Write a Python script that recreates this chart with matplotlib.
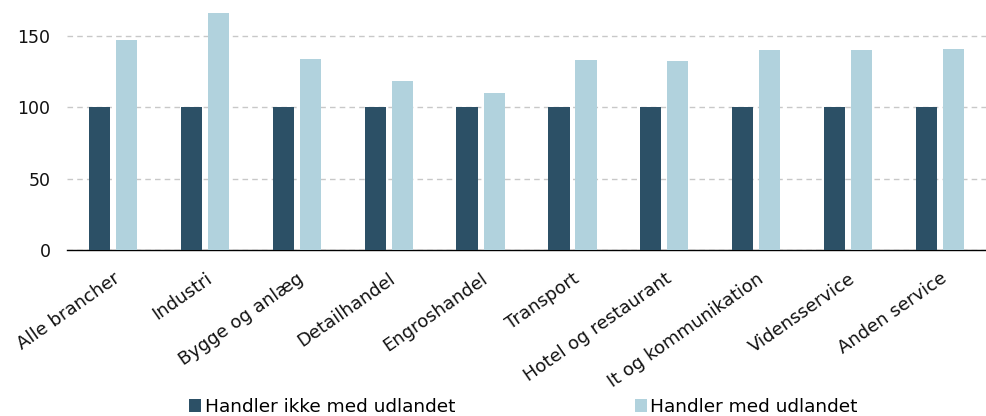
import numpy as np
import matplotlib.pyplot as plt

# Data (index, 100 = firms without foreign trade)
categories = [
    "Alle brancher", "Industri", "Bygge og anlæg", "Detailhandel", "Engroshandel",
    "Transport", "Hotel og restaurant", "It og kommunikation", "Vidensservice",
    "Anden service",
]
no_trade = [100, 100, 100, 100, 100, 100, 100, 100, 100, 100]
with_trade = [147, 166, 134, 118, 110, 133, 132, 140, 140, 141]

label_no = "Handler ikke med udlandet"
label_yes = "Handler med udlandet"

plt.rcParams["font.family"] = ["DejaVu Sans"]

fig = plt.figure(figsize=(9.86, 4.16), dpi=100)
ax = fig.add_axes([0.068, 0.399, 0.932, 0.601])

x = np.arange(len(categories))
w = 0.23
off = 0.147

ax.bar(x - off, no_trade, width=w, color="#2c5066", label=label_no, zorder=3)
ax.bar(x + off, with_trade, width=w, color="#b1d2dd", label=label_yes, zorder=3)

ax.set_xlim(-0.5, len(categories) - 0.5)
ax.set_ylim(0, 175)
ax.set_yticks([0, 50, 100, 150])
ax.yaxis.grid(True, linestyle=(0, (4, 3)), color="#c8c8c8", linewidth=1.0, zorder=0)

for s in ["top", "right", "left"]:
    ax.spines[s].set_visible(False)
ax.spines["bottom"].set_color("black")
ax.spines["bottom"].set_linewidth(1.0)

ax.set_xticks(x)
ax.set_xticklabels(categories, rotation=35, ha="right", rotation_mode="anchor")
ax.tick_params(axis="both", length=0, colors="#111111")
ax.tick_params(axis="x", pad=14, labelsize=13)
ax.tick_params(axis="y", pad=12, labelsize=12.5)

fig.legend(
    loc="lower center",
    bbox_to_anchor=(0.531, -0.04),
    ncol=2,
    frameon=False,
    fontsize=13.3,
    handlelength=0.65,
    handleheight=0.65,
    handletextpad=0.2,
    columnspacing=9.7,
)

fig.savefig("out.png", dpi=100)
